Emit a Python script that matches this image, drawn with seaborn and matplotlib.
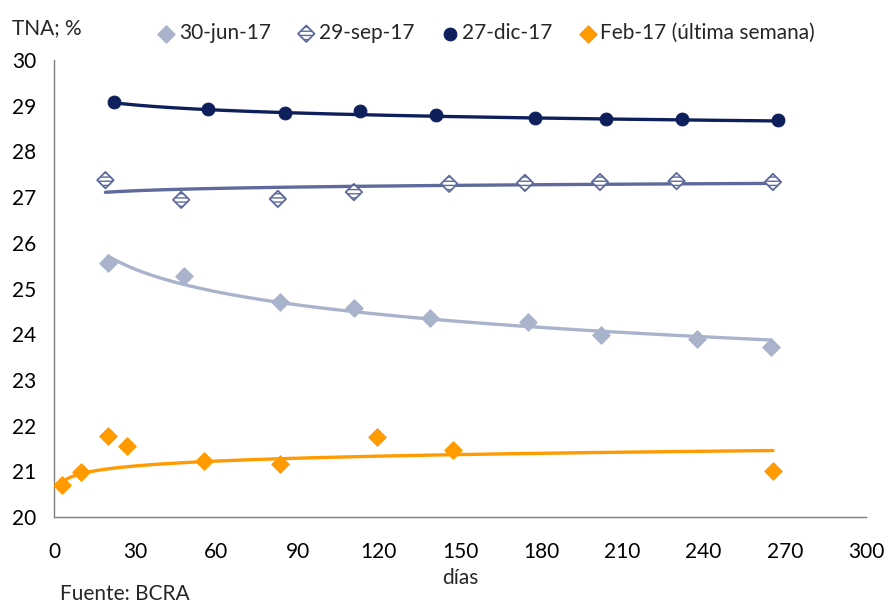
import numpy as np
import pandas as pd
import matplotlib
matplotlib.use("Agg")
import matplotlib.pyplot as plt
import seaborn as sns
from matplotlib import font_manager

# Tasas por plazo (días) para cada fecha de licitación
dias_jun = [20, 48, 83.5, 111, 139, 175, 202, 237.5, 265]
tna_jun = [25.56, 25.27, 24.70, 24.57, 24.36, 24.27, 23.98, 23.90, 23.72]

dias_sep = [19, 47, 82.7, 110.8, 146, 174, 201.7, 230, 265.6]
tna_sep = [27.37, 26.94, 26.96, 27.11, 27.29, 27.31, 27.33, 27.35, 27.33]

dias_dic = [22, 57, 85.3, 113, 141, 177.7, 204, 232, 267.5]
tna_dic = [29.08, 28.93, 28.84, 28.88, 28.80, 28.73, 28.71, 28.71, 28.69]

dias_feb = [3, 10, 20, 27, 55.4, 83.5, 119.3, 147.4, 265.6]
tna_feb = [20.71, 20.98, 21.77, 21.55, 21.22, 21.16, 21.75, 21.47, 21.00]

# Tendencias logarítmicas: TNA = a + b * ln(días)
trend_jun = [27.84, -0.711]
trend_sep = [26.887, 0.074]
trend_dic = [29.56, -0.160]
trend_feb = [20.59, 0.155]

series = ["30-jun-17", "29-sep-17", "27-dic-17", "Feb-17 (última semana)"]
xticks = list(range(0, 301, 30))
yticks = list(range(20, 31))

c_jun = "#A9B3CB"
c_sep = "#5E6A9C"
c_dic = "#0E1F5B"
c_feb = "#FF9A00"

sns.set_style("white")
available = {f.name for f in font_manager.fontManager.ttflist}
family = next((f for f in ["Liberation Sans Narrow", "Lato"] if f in available), "DejaVu Sans")
plt.rcParams["font.family"] = [family, "DejaVu Sans"]
FS = 15

fig = plt.figure(figsize=(8.91, 6.04), dpi=100)
ax = fig.add_axes([0.0606, 0.144, 0.9114, 0.7567])


def log_curve(x, coef):
    xs = np.linspace(min(x), max(x), 200)
    return xs, coef[0] + coef[1] * np.log(xs)


specs = [
    (dias_jun, tna_jun, trend_jun, c_jun,
     dict(marker="D", s=80, color=c_jun, edgecolor=c_jun)),
    (dias_sep, tna_sep, trend_sep, c_sep,
     dict(marker="D", s=70, facecolor="white", edgecolor=c_sep, linewidth=1.3, hatch="----")),
    (dias_dic, tna_dic, trend_dic, c_dic,
     dict(marker="o", s=85, color=c_dic, edgecolor=c_dic)),
    (dias_feb, tna_feb, trend_feb, c_feb,
     dict(marker="D", s=80, color=c_feb, edgecolor=c_feb)),
]

handles = []
for x, y, coef, col, kw in specs:
    xs, ys = log_curve(x, coef)
    sns.lineplot(x=xs, y=ys, ax=ax, color=col, linewidth=2.4, zorder=2)
    sns.scatterplot(x=x, y=y, ax=ax, zorder=3, **kw)
    handles.append(ax.collections[-1])

ax.set_xlim(0, 300)
ax.set_ylim(20, 30)
ax.set_xticks(xticks)
ax.set_yticks(yticks)
ax.tick_params(axis="both", direction="in", length=6, width=1, color="#7F7F7F",
               labelsize=FS, labelcolor="black")
ax.tick_params(axis="y", pad=13)
ax.tick_params(axis="x", pad=18)
for s in ["top", "right"]:
    ax.spines[s].set_visible(False)
for s in ["left", "bottom"]:
    ax.spines[s].set_color("#7F7F7F")
    ax.spines[s].set_linewidth(1)
ax.set_xlabel("días", fontsize=FS, labelpad=4)
ax.set_ylabel("")

fig.text(0.014, 0.953, "TNA; %", fontsize=FS, va="center", ha="left")
fig.text(0.067, 0.016, "Fuente: BCRA", fontsize=FS, va="center", ha="left")

fig.legend(handles, series, loc="center", bbox_to_anchor=(0.545, 0.945), ncol=4,
           frameon=False, fontsize=FS, handletextpad=0.1, columnspacing=1.2,
           handlelength=1.0, scatterpoints=1)

fig.savefig("out.png", dpi=100)
